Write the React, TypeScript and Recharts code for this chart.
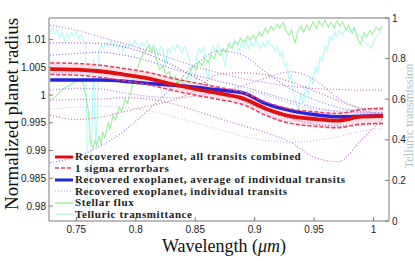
import { Area, ComposedChart, Line, ReferenceLine, XAxis, YAxis } from "recharts";

// smooth model curves share one wavelength grid (micron)
const wave = [0.728, 0.75, 0.77, 0.79, 0.81, 0.83, 0.85, 0.87, 0.89, 0.91, 0.93, 0.95, 0.97, 0.99, 1.008];
const combined = [1.0047, 1.0046, 1.0043, 1.0037, 1.003, 1.002, 1.0011, 1.0003, 0.9994, 0.9975, 0.9962, 0.9957, 0.9954, 0.9961, 0.9962];
const average = [1.0027, 1.0027, 1.0027, 1.0025, 1.0021, 1.0018, 1.0014, 1.0009, 1.0004, 0.9984, 0.9972, 0.9965, 0.9961, 0.9962, 0.9963];
const errUpper = [1.0058, 1.0057, 1.0054, 1.0048, 1.0041, 1.0031, 1.0022, 1.0014, 1.0005, 0.9987, 0.9975, 0.997, 0.9967, 0.9974, 0.9976];
const errLower = [1.0037, 1.0036, 1.0032, 1.0026, 1.0019, 1.0009, 1.0, 0.9992, 0.9983, 0.9963, 0.9949, 0.9944, 0.9941, 0.9948, 0.9949];

const transits = [
  [1.0126, 1.0117, 1.0105, 1.0093, 1.008, 1.0066, 1.0052, 1.004, 1.003, 1.0022, 1.0016, 1.0012, 1.001, 1.0009, 1.0009],
  [1.0094, 1.0094, 1.0093, 1.0087, 1.0074, 1.0055, 1.0032, 1.001, 0.999, 0.9972, 0.9958, 0.9948, 0.9944, 0.9946, 0.9948],
  [1.0072, 1.0075, 1.0077, 1.0072, 1.0062, 1.0048, 1.0036, 1.0025, 1.0015, 1.0003, 0.999, 0.9978, 0.997, 0.9968, 0.9968],
  [0.9964, 0.9956, 0.996, 0.997, 0.998, 0.999, 1.0008, 1.0038, 1.004, 1.0036, 1.0024, 1.0008, 0.999, 0.9977, 0.9975],
  [0.9878, 0.9889, 0.9908, 0.9935, 0.9972, 1.0012, 1.0055, 1.008, 1.0072, 1.004, 1.0012, 0.9992, 0.9978, 0.997, 0.9968],
  [1.0009, 1.0012, 1.0011, 1.0004, 0.9998, 0.9995, 0.9998, 1.0006, 1.0017, 1.0031, 1.0042, 1.0028, 0.9995, 0.9974, 0.9964],
  [0.9991, 0.9992, 0.9993, 0.9995, 0.9993, 0.9985, 0.9972, 0.9958, 0.9945, 0.9932, 0.9915, 0.9888, 0.988, 0.992, 0.9958],
  [0.9975, 0.9978, 0.998, 0.9978, 0.9972, 0.9962, 0.995, 0.9938, 0.9926, 0.9918, 0.9915, 0.9918, 0.9925, 0.9935, 0.994],
  [1.004, 1.0041, 1.004, 1.0037, 1.003, 1.0022, 1.0016, 1.0012, 1.0008, 1.0, 0.9985, 0.9975, 0.9972, 0.9975, 0.9978],
];
const transitColors = ["#c77fd3", "#a05cc0", "#8a78ee", "#c8708c", "#8c84f0", "#b080e8", "#c070c8", "#c8c0f8", "#a8a8f4"];

const fluxWave = [
  0.728, 0.732, 0.736, 0.74, 0.745, 0.749, 0.753, 0.756, 0.76, 0.762,
  0.764, 0.766, 0.767, 0.769, 0.771, 0.772, 0.774, 0.777, 0.778, 0.781,
  0.783, 0.786, 0.788, 0.791, 0.793, 0.796, 0.798, 0.801, 0.804, 0.806,
  0.809, 0.811, 0.813, 0.815, 0.818, 0.82, 0.823, 0.825, 0.828, 0.83,
  0.833, 0.835, 0.838, 0.841, 0.843, 0.846, 0.848, 0.851, 0.853, 0.856,
  0.858, 0.861, 0.863, 0.866, 0.868, 0.871, 0.873, 0.876, 0.878, 0.881,
  0.883, 0.886, 0.888, 0.891, 0.894, 0.896, 0.899, 0.901, 0.904, 0.906,
  0.909, 0.911, 0.914, 0.916, 0.919, 0.921, 0.924, 0.926, 0.929, 0.931,
  0.934, 0.936, 0.939, 0.941, 0.944, 0.946, 0.949, 0.952, 0.954, 0.957,
  0.959, 0.962, 0.964, 0.967, 0.969, 0.972, 0.974, 0.977, 0.979, 0.982,
  0.984, 0.987, 0.989, 0.992, 0.994, 0.997, 0.999, 1.002, 1.005, 1.007,
];
const fluxValues = [
  0.596, 0.61, 0.635, 0.655, 0.67, 0.685, 0.695, 0.675, 0.547, 0.384,
  0.36, 0.4, 0.365, 0.42, 0.375, 0.44, 0.41, 0.49, 0.45, 0.52,
  0.5, 0.56, 0.54, 0.6, 0.58, 0.64, 0.695, 0.745, 0.795, 0.82,
  0.85, 0.867, 0.83, 0.855, 0.78, 0.745, 0.765, 0.72, 0.735, 0.695,
  0.715, 0.675, 0.695, 0.665, 0.705, 0.735, 0.765, 0.745, 0.785, 0.765,
  0.8, 0.78, 0.82, 0.8, 0.84, 0.815, 0.85, 0.83, 0.87, 0.85,
  0.885, 0.87, 0.9, 0.88, 0.91, 0.89, 0.915, 0.895, 0.93, 0.91,
  0.95, 0.925, 0.96, 0.94, 0.97, 0.95, 0.98, 0.94, 0.915, 0.94,
  0.875, 0.93, 0.96, 0.93, 0.965, 0.94, 0.98, 0.95, 0.985, 0.96,
  0.99, 0.955, 0.98, 0.95, 0.985, 0.96, 0.98, 0.94, 0.965, 0.925,
  0.95, 0.89, 0.87, 0.93, 0.905, 0.94, 0.92, 0.955, 0.94, 0.96,
];

const tellWave = [
  0.728, 0.73, 0.732, 0.734, 0.736, 0.738, 0.74, 0.742, 0.744, 0.746,
  0.748, 0.75, 0.752, 0.754, 0.756, 0.7575, 0.7585, 0.7595, 0.7605, 0.7615,
  0.7625, 0.7635, 0.7645, 0.7655, 0.7665, 0.7675, 0.769, 0.771, 0.773, 0.775,
  0.777, 0.779, 0.781, 0.783, 0.785, 0.787, 0.789, 0.791, 0.793, 0.795,
  0.797, 0.799, 0.801, 0.803, 0.805, 0.807, 0.809, 0.811, 0.813, 0.815,
  0.817, 0.819, 0.821, 0.823, 0.825, 0.827, 0.829, 0.831, 0.833, 0.835,
  0.837, 0.839, 0.841, 0.843, 0.845, 0.847, 0.849, 0.851, 0.853, 0.855,
  0.857, 0.859, 0.861, 0.863, 0.865, 0.867, 0.869, 0.871, 0.873, 0.875,
  0.877, 0.879, 0.881, 0.883, 0.885, 0.887, 0.889, 0.891, 0.893, 0.895,
  0.897, 0.899, 0.901, 0.903, 0.905, 0.907, 0.909, 0.911, 0.913, 0.915,
  0.917, 0.919, 0.921, 0.923, 0.925, 0.927, 0.929, 0.931, 0.933, 0.935,
  0.937, 0.939, 0.941, 0.943, 0.945, 0.947, 0.949, 0.951, 0.953, 0.955,
  0.957, 0.959, 0.961, 0.963, 0.965, 0.967, 0.969, 0.971, 0.974, 0.977,
  0.98, 0.983, 0.986, 0.989, 0.992, 0.995, 0.998, 1.001, 1.004, 1.007,
];
const tellValues = [
  0.93, 0.95, 0.92, 0.94, 0.9, 0.93, 0.89, 0.92, 0.9, 0.93,
  0.91, 0.93, 0.9, 0.92, 0.89, 0.88, 0.6, 0.12, 0.06, 0.09,
  0.2, 0.55, 0.8, 0.5, 0.38, 0.52, 0.84, 0.87, 0.85, 0.88,
  0.86, 0.89, 0.86, 0.88, 0.85, 0.87, 0.84, 0.87, 0.85, 0.88,
  0.86, 0.89, 0.87, 0.85, 0.88, 0.86, 0.89, 0.87, 0.84, 0.87,
  0.85, 0.82, 0.86, 0.84, 0.76, 0.85, 0.83, 0.86, 0.84, 0.87,
  0.85, 0.83, 0.86, 0.84, 0.79, 0.66, 0.62, 0.8, 0.85, 0.83,
  0.86, 0.74, 0.7, 0.83, 0.86, 0.84, 0.87, 0.85, 0.82, 0.76,
  0.85, 0.88, 0.86, 0.89, 0.87, 0.84, 0.88, 0.86, 0.89, 0.85,
  0.88, 0.86, 0.89, 0.87, 0.85, 0.88, 0.86, 0.89, 0.87, 0.86,
  0.84, 0.86, 0.81, 0.83, 0.76, 0.78, 0.7, 0.72, 0.62, 0.58,
  0.55, 0.63, 0.58, 0.67, 0.62, 0.71, 0.67, 0.76, 0.73, 0.81,
  0.79, 0.86, 0.84, 0.91, 0.89, 0.93, 0.91, 0.94, 0.92, 0.95,
  0.93, 0.95, 0.92, 0.91, 0.88, 0.87, 0.85, 0.9, 0.92, 0.94,
];

const waveTicks = [0.75, 0.8, 0.85, 0.9, 0.95, 1];
const radiusTicks = [0.98, 0.985, 0.99, 0.995, 1, 1.005, 1.01];
const transTicks = [0, 0.2, 0.4, 0.6, 0.8, 1];

const legendLabels = [
  "Recovered exoplanet, all transits combined",
  "1 sigma errorbars",
  "Recovered exoplanet, average of individual transits",
  "Recovered exoplanet, individual transits",
  "Stellar flux",
  "Telluric transmittance",
];
const legendStyles = [
  { color: "#e01010", width: 3, dash: undefined },
  { color: "#f03a5a", width: 1.5, dash: "4 2" },
  { color: "#2424e0", width: 3, dash: undefined },
  { color: "#a8a0f0", width: 1.2, dash: "1 2" },
  { color: "#9cf09c", width: 1.5, dash: undefined },
  { color: "#b4fafa", width: 1.5, dash: undefined },
];

const table = wave.map((w, i) => {
  const row: Record<string, any> = {
    w,
    combined: combined[i],
    average: average[i],
    upper: errUpper[i],
    lower: errLower[i],
    band: [errLower[i], errUpper[i]],
  };
  transits.forEach((t, k) => (row[`t${k}`] = t[i]));
  return row;
});
const fluxData = fluxWave.map((w, i) => ({ w, v: fluxValues[i] }));
const tellData = tellWave.map((w, i) => ({ w, v: tellValues[i] }));

const tickFont = { fill: "#222", fontSize: 10, fontFamily: "Liberation Sans, Arial, sans-serif" };
const axisGray = "#7a7a7a";

export default function App() {
  return (
    <div style={{ position: "relative", width: 415, height: 261, background: "#fff" }}>
      <style>{"body{margin:0}"}</style>
      <ComposedChart width={415} height={261} data={table} margin={{ top: 18, right: 0, bottom: 0, left: 0 }}>
        <XAxis
          type="number"
          dataKey="w"
          domain={[0.727, 1.013]}
          ticks={waveTicks}
          allowDataOverflow
          height={40}
          tickSize={-4}
          tickMargin={9}
          tick={tickFont}
          stroke={axisGray}
        />
        <YAxis
          yAxisId="l"
          domain={[0.9773, 1.0139]}
          ticks={radiusTicks}
          allowDataOverflow
          width={49}
          tickSize={-4}
          tickMargin={7}
          tick={tickFont}
          stroke={axisGray}
        />
        <YAxis
          yAxisId="r"
          orientation="right"
          domain={[0, 1]}
          ticks={transTicks}
          allowDataOverflow
          width={26}
          tickSize={-4}
          tickMargin={7}
          tick={tickFont}
          stroke={axisGray}
        />
        <ReferenceLine yAxisId="r" y={1} stroke={axisGray} />
        <Line yAxisId="r" data={tellData} dataKey="v" stroke="#b4fafa" strokeWidth={1.1} dot={false} type="linear" isAnimationActive={false} />
        <Line yAxisId="r" data={fluxData} dataKey="v" stroke="#9cf09c" strokeWidth={1.1} dot={false} type="linear" isAnimationActive={false} />
        {transits.map((_, k) => (
          <Line
            key={k}
            yAxisId="l"
            dataKey={`t${k}`}
            stroke={transitColors[k]}
            strokeWidth={1.2}
            strokeDasharray="1 2"
            dot={false}
            type="monotone"
            isAnimationActive={false}
          />
        ))}
        <Area yAxisId="l" dataKey="band" stroke="none" fill="#ffc8d8" fillOpacity={0.55} type="monotone" isAnimationActive={false} />
        <Line yAxisId="l" dataKey="average" stroke="#2424e0" strokeWidth={3.5} dot={false} type="monotone" isAnimationActive={false} />
        <Line yAxisId="l" dataKey="combined" stroke="#e01010" strokeWidth={3.8} dot={false} type="monotone" isAnimationActive={false} />
        <Line yAxisId="l" dataKey="upper" stroke="#f03a5a" strokeWidth={1.5} strokeDasharray="4 2" dot={false} type="monotone" isAnimationActive={false} />
        <Line yAxisId="l" dataKey="lower" stroke="#f03a5a" strokeWidth={1.5} strokeDasharray="4 2" dot={false} type="monotone" isAnimationActive={false} />
      </ComposedChart>

      <svg width={415} height={261} style={{ position: "absolute", left: 0, top: 0, pointerEvents: "none" }}>
        <text
          transform="translate(18,114) rotate(-90)"
          textAnchor="middle"
          fontFamily="Liberation Serif, serif"
          fontSize={19}
          fill="#111"
        >
          Normalized planet radius
        </text>
        <text x={224} y={252} textAnchor="middle" fontFamily="Liberation Serif, serif" fontSize={18} fill="#111">
          Wavelength (<tspan fontStyle="italic">μm</tspan>)
        </text>
        <text
          transform="translate(413,116) rotate(-90)"
          textAnchor="middle"
          fontFamily="Liberation Serif, serif"
          fontSize={12.5}
          fill="#a6c6ce"
        >
          Telluric transmission
        </text>
      </svg>

      <div style={{ position: "absolute", left: 55, top: 151, pointerEvents: "none" }}>
        {legendLabels.map((label, i) => (
          <div key={label} style={{ display: "flex", alignItems: "center", height: 11.5 }}>
            <svg width={20} height={8}>
              <line
                x1={0}
                x2={18}
                y1={4}
                y2={4}
                stroke={legendStyles[i].color}
                strokeWidth={legendStyles[i].width}
                strokeDasharray={legendStyles[i].dash}
              />
            </svg>
            <span
              style={{
                fontFamily: "Liberation Serif, serif",
                fontWeight: "bold",
                fontSize: 11,
                letterSpacing: 0.6,
                color: "#222",
                whiteSpace: "nowrap",
                lineHeight: "11.5px",
              }}
            >
              {label}
            </span>
          </div>
        ))}
      </div>
    </div>
  );
}
